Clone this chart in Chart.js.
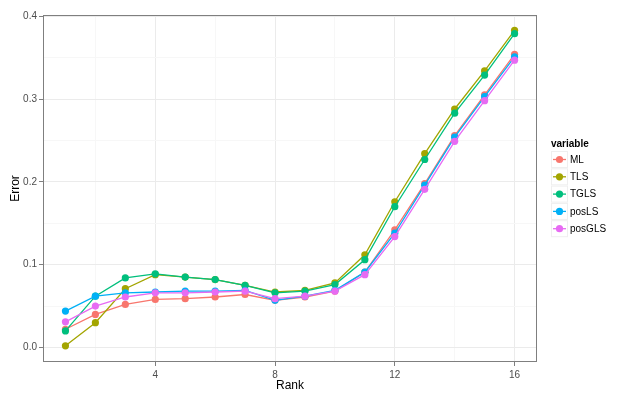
<!DOCTYPE html>
<html>
<head>
<meta charset="utf-8">
<script src="https://cdn.jsdelivr.net/npm/chart.js@4/dist/chart.umd.min.js"></script>
<style>
html,body{margin:0;padding:0;background:#fff;}
#wrap{width:632px;height:400px;position:relative;}
</style>
</head>
<body>
<div id="wrap"><canvas id="c" width="632" height="400"></canvas></div>
<script>
const ranks = [1,2,3,4,5,6,7,8,9,10,11,12,13,14,15,16];
const seriesNames = ['ML','TLS','TGLS','posLS','posGLS'];
const ML     = [0.022,0.040,0.052,0.058,0.059,0.061,0.064,0.057,0.061,0.068,0.091,0.142,0.198,0.256,0.305,0.354];
const TLS    = [0.002,0.030,0.071,0.088,0.085,0.082,0.075,0.067,0.069,0.078,0.112,0.176,0.234,0.288,0.334,0.383];
const TGLS   = [0.020,0.062,0.084,0.089,0.085,0.082,0.075,0.066,0.068,0.076,0.106,0.170,0.227,0.283,0.329,0.379];
const posLS  = [0.044,0.062,0.066,0.067,0.068,0.068,0.069,0.057,0.062,0.069,0.091,0.138,0.196,0.254,0.303,0.351];
const posGLS = [0.031,0.050,0.061,0.066,0.066,0.067,0.068,0.059,0.062,0.068,0.088,0.134,0.191,0.249,0.298,0.347];
const xMajor = [4,8,12,16];
const xMinor = [2,6,10,14];
const yMajor = [0,0.1,0.2,0.3,0.4];
const yMinor = [0.05,0.15,0.25,0.35];
const colors = ['#F8766D','#A3A500','#00BF7D','#00B0F6','#E76BF3'];
const values = [ML,TLS,TGLS,posLS,posGLS];

const datasets = values.map((v,i)=>({
  label: seriesNames[i],
  data: v.map((y,j)=>({x:ranks[j], y:y})),
  borderColor: colors[i],
  backgroundColor: colors[i],
  borderWidth: 1.3,
  pointRadius: 3.6,
  pointHoverRadius: 3.6,
  pointBorderWidth: 0,
  pointStyle: 'circle',
  tension: 0,
  order: 5 - i
}));

function isMajor(list, v){ return list.some(m=>Math.abs(m-v)<1e-9); }

const legendPlugin = {
  id:'ggLegend',
  afterDraw(chart){
    const ctx = chart.ctx;
    ctx.save();
    ctx.fillStyle = '#000';
    ctx.font = 'bold 10px "Liberation Sans", Arial, sans-serif';
    ctx.textBaseline = 'middle';
    ctx.textAlign = 'left';
    ctx.fillText('variable', 551, 144);
    const x0 = 551, size = 17, y0 = 151;
    seriesNames.forEach((n,i)=>{
      const top = y0 + i*17.3;
      ctx.fillStyle = '#EFEFEF';
      ctx.fillRect(x0, top, size, size);
      ctx.fillStyle = '#fff';
      ctx.fillRect(x0+1, top+1, size-2, size-2);
      const cy = top + size/2;
      ctx.strokeStyle = colors[i];
      ctx.lineWidth = 1.3;
      ctx.beginPath(); ctx.moveTo(x0+2, cy); ctx.lineTo(x0+size-2, cy); ctx.stroke();
      ctx.fillStyle = colors[i];
      ctx.beginPath(); ctx.arc(x0+size/2, cy, 3.6, 0, Math.PI*2); ctx.fill();
      ctx.fillStyle = '#000';
      ctx.font = '10px "Liberation Sans", Arial, sans-serif';
      ctx.fillText(n, x0+size+2, cy+0.5);
    });
    const a = chart.chartArea;
    ctx.strokeStyle = '#7F7F7F';
    ctx.lineWidth = 1;
    ctx.strokeRect(a.left+0.5, a.top+0.5, a.right-a.left-1, a.bottom-a.top-1);
    ctx.restore();
  }
};

new Chart(document.getElementById('c'), {
  type:'line',
  data:{datasets},
  plugins:[legendPlugin],
  options:{
    responsive:false,
    animation:false,
    devicePixelRatio:1,
    layout:{padding:{top:15, right:95, bottom:0, left:0}},
    plugins:{legend:{display:false}, tooltip:{enabled:false}},
    scales:{
      x:{
        type:'linear',
        min:0.25, max:16.75,
        afterBuildTicks(s){ s.ticks = xMajor.concat(xMinor).sort((a,b)=>a-b).map(v=>({value:v})); },
        afterFit(s){ s.height = 38; },
        ticks:{
          autoSkip:false, maxRotation:0,
          color:'#4D4D4D',
          font:{size:10, family:'"Liberation Sans", Arial, sans-serif'},
          padding:3,
          callback(v){ return isMajor(xMajor, v) ? String(v) : ''; }
        },
        grid:{
          color(c){ return isMajor(xMajor, c.tick.value) ? '#EBEBEB' : '#F7F7F7'; },
          tickColor(c){ return isMajor(xMajor, c.tick.value) ? '#7F7F7F' : 'rgba(0,0,0,0)'; },
          tickLength:4,
          drawOnChartArea:true
        },
        border:{display:false},
        title:{display:true, text:'Rank', color:'#000', font:{size:12, family:'"Liberation Sans", Arial, sans-serif'}, padding:{top:0,bottom:7}}
      },
      y:{
        type:'linear',
        min:-0.0175, max:0.4015,
        afterBuildTicks(s){ s.ticks = yMajor.concat(yMinor).sort((a,b)=>a-b).map(v=>({value:v})); },
        afterFit(s){ s.width = 43; },
        ticks:{
          autoSkip:false,
          color:'#4D4D4D',
          font:{size:10, family:'"Liberation Sans", Arial, sans-serif'},
          padding:2,
          callback(v){ return isMajor(yMajor, v) ? v.toFixed(1) : ''; }
        },
        grid:{
          color(c){ return isMajor(yMajor, c.tick.value) ? '#EBEBEB' : '#F7F7F7'; },
          tickColor(c){ return isMajor(yMajor, c.tick.value) ? '#7F7F7F' : 'rgba(0,0,0,0)'; },
          tickLength:4
        },
        border:{display:false},
        title:{display:true, text:'Error', color:'#000', font:{size:12, family:'"Liberation Sans", Arial, sans-serif'}, padding:{top:8,bottom:0}}
      }
    }
  }
});
</script>
</body>
</html>
